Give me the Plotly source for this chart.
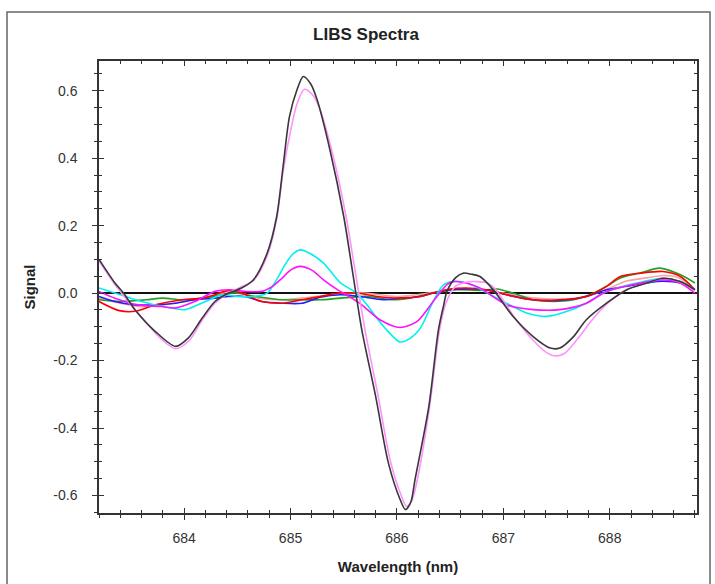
import plotly.graph_objects as go

# ---- data ----
black_x = [683.2, 683.35, 683.43, 683.54, 683.73, 683.92, 684.04, 684.17, 684.29, 684.42, 684.54, 684.65,
           684.78, 684.87, 684.93, 684.99, 685.06, 685.12, 685.19, 685.25, 685.37, 685.50, 685.59, 685.67,
           685.80, 685.92, 686.03, 686.08, 686.13, 686.17, 686.30, 686.39, 686.44, 686.47, 686.55, 686.62,
           686.70, 686.78, 686.91, 687.09, 687.28, 687.44, 687.53, 687.66, 687.78, 687.97, 688.16, 688.35,
           688.50, 688.66, 688.80]
black_y = [0.10, 0.03, 0.0, -0.05, -0.114, -0.158, -0.133, -0.074, -0.025, 0.0, 0.015, 0.039,
           0.118, 0.227, 0.375, 0.523, 0.602, 0.642, 0.62, 0.573, 0.425, 0.227, 0.049, -0.109,
           -0.306, -0.504, -0.612, -0.642, -0.62, -0.553, -0.336, -0.109, -0.035, 0.005, 0.045, 0.059,
           0.056, 0.049, 0.008, -0.069, -0.129, -0.163, -0.163, -0.129, -0.079, -0.030, 0.01, 0.03,
           0.044, 0.034, 0.01]

violet_x = [683.2, 683.35, 683.5, 683.65, 683.78, 683.92, 684.05, 684.17, 684.29, 684.42, 684.55, 684.66,
            684.78, 684.87, 684.93, 685.0, 685.06, 685.13, 685.2, 685.27, 685.39, 685.52, 685.61, 685.7,
            685.82, 685.94, 686.04, 686.09, 686.14, 686.2, 686.31, 686.4, 686.46, 686.55, 686.65, 686.75,
            686.85, 686.93, 687.1, 687.28, 687.4, 687.48, 687.57, 687.7, 687.82, 687.98, 688.16, 688.35,
            688.5, 688.66, 688.8]
violet_y = [0.095, 0.025, -0.035, -0.09, -0.135, -0.165, -0.14, -0.08, -0.03, 0.0, 0.02, 0.04,
            0.11, 0.22, 0.36, 0.48, 0.56, 0.604, 0.59, 0.55, 0.42, 0.23, 0.06, -0.11,
            -0.30, -0.50, -0.60, -0.632, -0.615, -0.54, -0.33, -0.11, -0.03, 0.02, 0.032, 0.034,
            0.03, 0.01, -0.07, -0.14, -0.175, -0.186, -0.18, -0.135, -0.085, -0.03, 0.01, 0.03,
            0.043, 0.033, 0.008]

cyan_x = [683.2, 683.4, 683.6, 683.8, 684.01, 684.2, 684.36, 684.5, 684.65, 684.78, 684.87, 684.95,
          685.02, 685.09, 685.18, 685.31, 685.47, 685.62, 685.72, 685.81, 685.92, 686.03, 686.12, 686.22,
          686.34, 686.44, 686.56, 686.7, 686.85, 687.03, 687.22, 687.41, 687.6, 687.78, 687.94, 688.19,
          688.5, 688.66, 688.8]
cyan_y = [0.015, -0.005, -0.025, -0.04, -0.049, -0.025, -0.005, -0.01, -0.01, 0.0, 0.04, 0.085,
          0.115, 0.128, 0.118, 0.089, 0.03, 0.0, -0.035, -0.074, -0.115, -0.145, -0.135, -0.104,
          -0.025, 0.025, 0.035, 0.025, 0.0, -0.03, -0.059, -0.069, -0.054, -0.03, 0.0, 0.025,
          0.044, 0.035, 0.01]

magenta_x = [683.2, 683.35, 683.57, 683.79, 683.92, 684.1, 684.29, 684.42, 684.57, 684.73, 684.83, 684.92,
             685.0, 685.09, 685.2, 685.31, 685.44, 685.55, 685.65, 685.84, 686.03, 686.19, 686.34, 686.47,
             686.53, 686.65, 686.78, 687.03, 687.28, 687.53, 687.78, 687.97, 688.22, 688.5, 688.66, 688.8]
magenta_y = [0.005, -0.015, -0.035, -0.04, -0.044, -0.025, 0.005, 0.01, 0.005, 0.005, 0.02, 0.044,
             0.068, 0.079, 0.068, 0.039, 0.01, -0.01, -0.03, -0.079, -0.102, -0.084, -0.025, 0.025,
             0.034, 0.03, 0.015, -0.035, -0.049, -0.049, -0.03, 0.005, 0.025, 0.039, 0.03, 0.0]

red_x = [683.2, 683.39, 683.54, 683.73, 683.98, 684.17, 684.29, 684.42, 684.54, 684.73, 684.92, 685.11,
         685.28, 685.47, 685.62, 685.81, 686.03, 686.22, 686.34, 686.5, 686.65, 686.84, 687.03, 687.28,
         687.53, 687.78, 687.97, 688.1, 688.29, 688.5, 688.66, 688.8]
red_y = [-0.025, -0.052, -0.054, -0.035, -0.02, -0.015, -0.005, 0.008, 0.0, -0.025, -0.03, -0.02,
         -0.01, 0.0, 0.0, -0.01, -0.015, -0.01, 0.0, 0.012, 0.015, 0.01, -0.005, -0.02,
         -0.02, -0.01, 0.02, 0.049, 0.059, 0.064, 0.05, 0.01]

green_x = [683.2, 683.4, 683.64, 683.8, 683.98, 684.17, 684.36, 684.48, 684.67, 684.92, 685.11, 685.28,
           685.47, 685.72, 685.97, 686.12, 686.34, 686.56, 686.78, 686.94, 687.09, 687.28, 687.47, 687.66,
           687.85, 687.97, 688.1, 688.29, 688.47, 688.66, 688.8]
green_y = [-0.02, -0.025, -0.02, -0.015, -0.02, -0.015, -0.005, 0.0, -0.01, -0.02, -0.02, -0.02,
           -0.015, -0.01, -0.02, -0.015, 0.0, 0.01, 0.008, 0.012, 0.0, -0.02, -0.025, -0.02,
           0.0, 0.02, 0.045, 0.06, 0.074, 0.055, 0.03]

blue_x = [683.2, 683.35, 683.54, 683.73, 683.92, 684.1, 684.29, 684.42, 684.57, 684.73, 684.92, 685.11,
          685.28, 685.47, 685.65, 685.87, 686.03, 686.22, 686.34, 686.5, 686.72, 686.87, 687.03, 687.28,
          687.53, 687.78, 687.97, 688.16, 688.35, 688.5, 688.66, 688.8]
blue_y = [-0.01, -0.025, -0.035, -0.035, -0.03, -0.02, -0.015, -0.01, -0.01, -0.025, -0.03, -0.03,
          -0.012, -0.005, -0.01, -0.02, -0.015, -0.01, 0.0, 0.01, 0.012, 0.008, -0.005, -0.02,
          -0.022, -0.01, 0.01, 0.02, 0.03, 0.035, 0.03, 0.01]

salmon_x = [683.2, 683.4, 683.6, 683.8, 684.0, 684.2, 684.45, 684.7, 684.9, 685.1, 685.3, 685.5,
            685.7, 686.0, 686.3, 686.55, 686.8, 687.0, 687.3, 687.55, 687.8, 688.0, 688.15, 688.35,
            688.5, 688.65, 688.8]
salmon_y = [-0.015, -0.03, -0.04, -0.035, -0.025, -0.015, 0.005, -0.015, -0.02, -0.015, -0.008, 0.0,
            0.0, -0.01, 0.0, 0.012, 0.01, 0.0, -0.015, -0.018, -0.008, 0.015, 0.035, 0.045,
            0.052, 0.045, 0.012]

x_ticks = [684, 685, 686, 687, 688]
x_tick_labels = ["684", "685", "686", "687", "688"]
y_ticks = [-0.6, -0.4, -0.2, 0.0, 0.2, 0.4, 0.6]
y_tick_labels = ["-0.6", "-0.4", "-0.2", "0.0", "0.2", "0.4", "0.6"]
x_range = [683.2, 688.82]
y_range = [-0.652, 0.688]

series = [
    (salmon_x, salmon_y, "#ffa0a0"),
    (green_x, green_y, "#22a022"),
    (blue_x, blue_y, "#2020ff"),
    (red_x, red_y, "#ff0000"),
    (cyan_x, cyan_y, "#00f0f0"),
    (magenta_x, magenta_y, "#ff10ff"),
    (violet_x, violet_y, "#ff90ff"),
    (black_x, black_y, "#383838"),
]

FONT = "Arial, Liberation Sans, sans-serif"
AX = "#333333"

fig = go.Figure()
for xs, ys, col in series:
    fig.add_trace(go.Scatter(x=xs, y=ys, mode="lines",
                             line=dict(color=col, width=1.6, shape="spline", smoothing=0.8),
                             showlegend=False, hoverinfo="skip"))
# empty trace to host the outer-tick overlay axes
fig.add_trace(go.Scatter(x=[], y=[], xaxis="x2", yaxis="y2", showlegend=False))

fig.update_layout(
    width=715, height=584,
    margin=dict(l=99, r=18, t=61, b=71),
    paper_bgcolor="white", plot_bgcolor="white",
    font=dict(family=FONT, color=AX, size=14),
    title=dict(text="<b>LIBS Spectra</b>", x=366 / 715, xref="container", xanchor="center",
               y=1 - 34 / 584, yref="container", yanchor="middle",
               font=dict(size=17, color="#222222", family=FONT)),
    xaxis=dict(range=x_range, tickvals=x_ticks, ticktext=x_tick_labels, ticks="inside", ticklen=5,
               tickwidth=1.3, tickcolor=AX, mirror="allticks", showline=True, linecolor=AX, linewidth=1.5,
               showgrid=False, zeroline=False, automargin=False,
               minor=dict(dtick=0.2, ticks="inside", ticklen=3, tickwidth=1.2, tickcolor=AX, showgrid=False),
               ticklabelstandoff=11,
               title=dict(text="<b>Wavelength (nm)</b>", standoff=17, font=dict(size=15, color="#222222"))),
    yaxis=dict(range=y_range, tickvals=y_ticks, ticktext=y_tick_labels, ticks="inside", ticklen=5,
               tickwidth=1.3, tickcolor=AX, mirror="allticks", showline=True, linecolor=AX, linewidth=1.5,
               showgrid=False, zeroline=True, zerolinecolor="#111111", zerolinewidth=1.6, automargin=False,
               minor=dict(dtick=0.05, ticks="inside", ticklen=3, tickwidth=1.2, tickcolor=AX, showgrid=False),
               ticklabelstandoff=17,
               title=dict(text="<b>Signal</b>", standoff=14, font=dict(size=15, color="#222222"))),
    xaxis2=dict(overlaying="x", matches="x", range=x_range, side="bottom", anchor="y2",
                tickvals=x_ticks, ticks="outside", ticklen=6, tickwidth=1.3, tickcolor=AX,
                showticklabels=False, showline=False, showgrid=False, zeroline=False, automargin=False,
                minor=dict(dtick=0.2, ticks="outside", ticklen=4, tickwidth=1.2, tickcolor=AX, showgrid=False)),
    yaxis2=dict(overlaying="y", matches="y", range=y_range, side="left", anchor="x2",
                tickvals=y_ticks, ticks="outside", ticklen=6, tickwidth=1.3, tickcolor=AX,
                showticklabels=False, showline=False, showgrid=False, zeroline=False, automargin=False,
                minor=dict(dtick=0.05, ticks="outside", ticklen=4, tickwidth=1.2, tickcolor=AX, showgrid=False)),
    shapes=[dict(type="rect", xref="paper", yref="paper",
                 x0=(7 - 99) / 598, x1=(710 - 99) / 598,
                 y0=(513 - 600) / 452, y1=(513 - 12) / 452,
                 line=dict(color="#666666", width=1.5), fillcolor="rgba(0,0,0,0)", layer="below")],
)

fig.write_html("out.html", config={"displayModeBar": False},
               post_script="document.body.style.margin='0px';document.body.style.overflow='hidden';")
